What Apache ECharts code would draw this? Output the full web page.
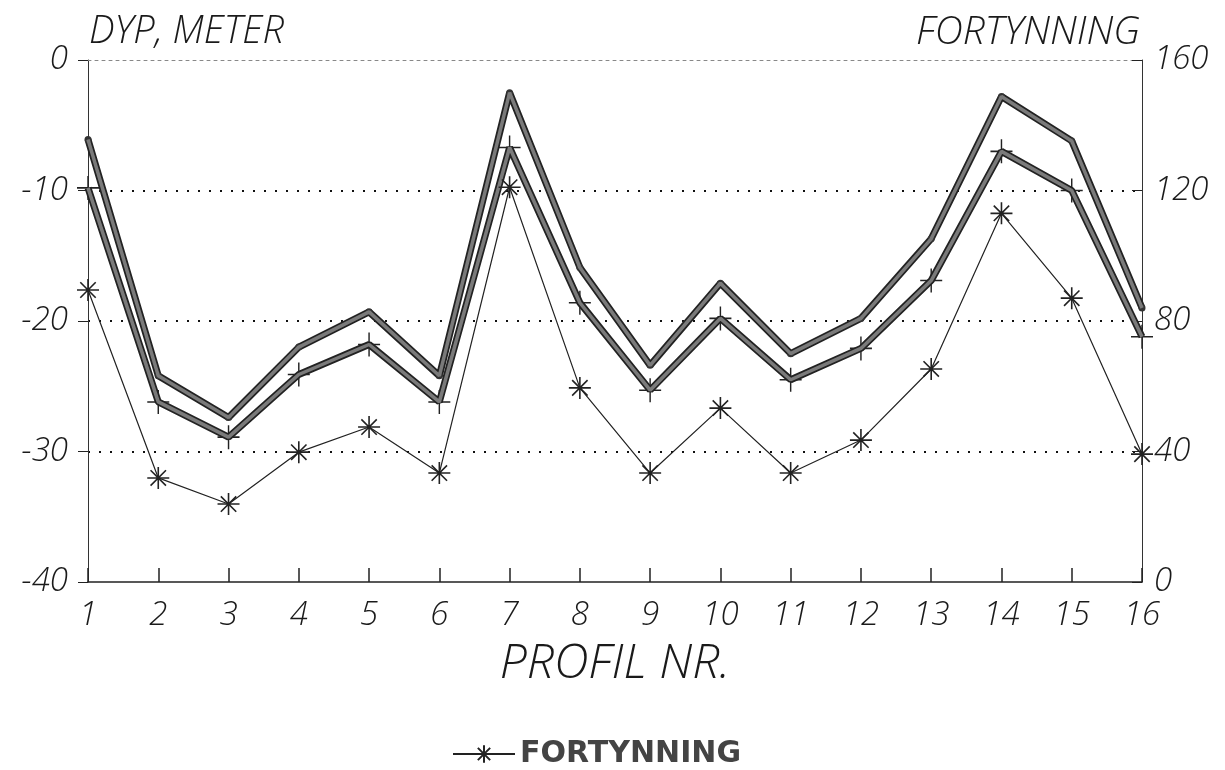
<!DOCTYPE html>
<html>
<head>
<meta charset="utf-8">
<script src="https://cdn.jsdelivr.net/npm/echarts@6/dist/echarts.min.js"></script>
<style>
html,body{margin:0;padding:0;background:#fff;}
#chart{width:1225px;height:770px;}
</style>
</head>
<body>
<div id="chart"></div>
<script>
// ---- data ----
const profiles = ['1','2','3','4','5','6','7','8','9','10','11','12','13','14','15','16'];
// depth lines (left axis, metres)
const depthUpper = [-6.1,-24.2,-27.4,-22.0,-19.3,-24.2,-2.5,-15.9,-23.4,-17.1,-22.5,-19.8,-13.7,-2.8,-6.2,-19.0];
const depthLower = [-9.8,-26.2,-28.9,-24.1,-21.8,-26.2,-6.7,-18.6,-25.3,-19.8,-24.5,-22.1,-16.9,-7.0,-10.0,-21.2];
// dilution (right axis)
const fortynning = [89.5,31.9,23.9,39.8,47.5,33.4,121,59.5,33.4,53.3,33.4,43.5,65.3,113,87,39.2];
const leftTicks = {min:-40,max:0,interval:10};
const rightTicks = {min:0,max:160,interval:40};

const FONT = '"Open Sans", Roboto, sans-serif';
const labelStyle = {fontFamily:FONT, fontStyle:'italic', fontWeight:300, fontSize:33, color:'#1a1a1a'};

const asterisk = 'path://M0,10L20,10M10,0L10,20M3,3L17,17M17,3L3,17';
const plus = 'path://M0,10L20,10M10,0L10,20';

const chart = echarts.init(document.getElementById('chart'), null, {renderer:'canvas'});
const option = {
  backgroundColor:'#fff',
  animation:false,
  title:[
    {text:'DYP, METER', left:84, top:8, textStyle:Object.assign({}, labelStyle, {fontSize:38})},
    {text:'FORTYNNING', right:80, top:8, textStyle:Object.assign({}, labelStyle, {fontSize:39})}
  ],
  legend:{
    data:['FORTYNNING'],
    top:734, left:447,
    itemWidth:62, itemHeight:22, itemGap:10,
    textStyle:{fontFamily:'"DejaVu Sans", sans-serif', fontWeight:'bold', fontSize:30, color:'#444'}
  },
  grid:{left:88, right:83, top:60, bottom:188, containLabel:false},
  xAxis:[{
    type:'category', data:profiles, boundaryGap:false, position:'bottom',
    name:'PROFIL NR.', nameLocation:'middle', nameGap:58,
    nameTextStyle:Object.assign({}, labelStyle, {fontSize:48}),
    axisLine:{onZero:false, lineStyle:{color:'#222', width:1.5}},
    axisTick:{inside:true, length:14, alignWithLabel:true, lineStyle:{color:'#222', width:1.5}},
    axisLabel:Object.assign({margin:17, interval:0}, labelStyle),
    splitLine:{show:false}
  },{
    type:'category', data:profiles, boundaryGap:false, position:'top',
    axisLine:{onZero:false, lineStyle:{color:'#888', width:1, type:[3,4]}},
    axisTick:{show:false}, axisLabel:{show:false}, splitLine:{show:false}
  }],
  yAxis:[{
    type:'value', min:leftTicks.min, max:leftTicks.max, interval:leftTicks.interval,
    axisLine:{show:true, onZero:false, lineStyle:{color:'#333', width:1}},
    axisTick:{show:true, length:10, lineStyle:{color:'#222'}},
    axisLabel:Object.assign({margin:20}, labelStyle),
    splitLine:{show:true, lineStyle:{color:['transparent','#111','#111','#111','transparent'], width:2, type:[2,9]}}
  },{
    type:'value', min:rightTicks.min, max:rightTicks.max, interval:rightTicks.interval,
    position:'right',
    axisLine:{show:true, onZero:false, lineStyle:{color:'#333', width:1}},
    axisTick:{show:true, inside:true, length:10, lineStyle:{color:'#222'}},
    axisLabel:Object.assign({margin:12}, labelStyle),
    splitLine:{show:false}
  }],
  series:[
    {name:'DYP1', type:'line', data:depthUpper, yAxisIndex:0, xAxisIndex:0,
     symbol:'circle', symbolSize:7, showSymbol:true,
     itemStyle:{color:'#333'}, lineStyle:{color:'#222', width:7}, z:2},
    {name:'DYP1b', type:'line', data:depthUpper, yAxisIndex:0, xAxisIndex:0,
     symbol:'none', lineStyle:{color:'#7a7a7a', width:3.5}, z:3},
    {name:'DYP2', type:'line', data:depthLower, yAxisIndex:0, xAxisIndex:0,
     symbol:plus, symbolSize:[22,24], showSymbol:true,
     itemStyle:{color:'transparent', borderColor:'#222', borderWidth:1.5},
     lineStyle:{color:'#222', width:7}, z:2},
    {name:'DYP2b', type:'line', data:depthLower, yAxisIndex:0, xAxisIndex:0,
     symbol:'none', lineStyle:{color:'#7a7a7a', width:3.5}, z:3},
    {name:'FORTYNNING', type:'line', data:fortynning, yAxisIndex:1, xAxisIndex:0,
     symbol:asterisk, symbolSize:22, showSymbol:true,
     itemStyle:{color:'transparent', borderColor:'#222', borderWidth:1.6},
     lineStyle:{color:'#222', width:1.2}, z:4}
  ]
};
chart.setOption(option);
</script>
</body>
</html>
